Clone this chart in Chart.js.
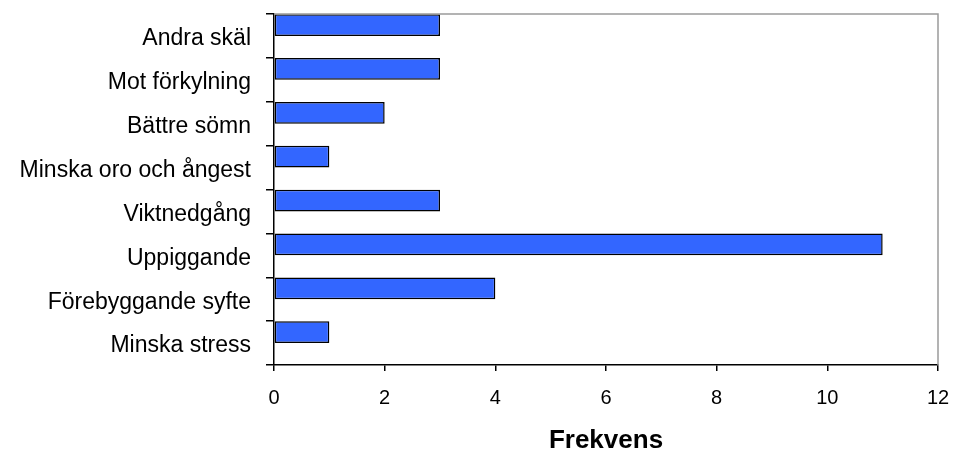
<!DOCTYPE html>
<html>
<head>
<meta charset="utf-8">
<script src="https://cdn.jsdelivr.net/npm/chart.js@4/dist/chart.umd.min.js"></script>
<style>
  html, body { margin: 0; padding: 0; background: #ffffff; }
  #wrap { width: 953px; height: 451px; }
</style>
</head>
<body>
<div id="wrap"><canvas id="c" width="953" height="451"></canvas></div>
<script>
// Reasons given, top to bottom
const categories = [
  'Andra skäl',
  'Mot förkylning',
  'Bättre sömn',
  'Minska oro och ångest',
  'Viktnedgång',
  'Uppiggande',
  'Förebyggande syfte',
  'Minska stress'
];
// Number of answers per reason
const frekvens = [3, 3, 2, 1, 3, 11, 4, 1];
// Second (empty) series that keeps its slot in every category
const emptySeries = [null, null, null, null, null, null, null, null];
// Value axis ticks
const xTicks = [0, 2, 4, 6, 8, 10, 12];

const FONT = '"Liberation Sans", Arial, Helvetica, sans-serif';

// Grey frame on the top and right edges of the plot area
const frameLines = {
  id: 'frameLines',
  afterDatasetsDraw(chart) {
    const { ctx, chartArea: a } = chart;
    ctx.save();
    ctx.strokeStyle = '#9a9a9a';
    ctx.lineWidth = 1.5;
    ctx.beginPath();
    ctx.moveTo(a.left, a.top);
    ctx.lineTo(a.right, a.top);
    ctx.lineTo(a.right, a.bottom);
    ctx.stroke();
    ctx.restore();
  }
};

new Chart(document.getElementById('c'), {
  type: 'bar',
  data: {
    labels: categories,
    datasets: [
      {
        label: 'Frekvens',
        data: frekvens,
        backgroundColor: '#3366ff',
        borderColor: '#000000',
        borderWidth: 1.5,
        borderSkipped: false,
        categoryPercentage: 0.99,
        barPercentage: 1.0
      },
      {
        label: '',
        data: emptySeries,
        backgroundColor: '#3366ff',
        borderColor: '#000000',
        borderWidth: 1.5,
        categoryPercentage: 0.99,
        barPercentage: 1.0
      }
    ]
  },
  options: {
    indexAxis: 'y',
    responsive: false,
    maintainAspectRatio: false,
    devicePixelRatio: 1,
    animation: false,
    layout: { padding: { top: 14, right: 15, left: 0, bottom: 0 } },
    plugins: {
      legend: { display: false },
      tooltip: { enabled: false },
      title: { display: false }
    },
    scales: {
      x: {
        type: 'linear',
        position: 'bottom',
        min: 0,
        max: 12,
        afterBuildTicks(scale) {
          scale.ticks = xTicks.map(v => ({ value: v }));
        },
        afterFit(scale) {
          scale.height = 86;
          scale.paddingLeft = 0;
          scale.paddingRight = 0;
        },
        border: { display: true, color: '#000000', width: 1.5 },
        grid: {
          display: true,
          drawOnChartArea: false,
          drawTicks: true,
          tickLength: 6,
          color: '#000000',
          lineWidth: 1.5
        },
        ticks: {
          color: '#000000',
          padding: 15,
          maxRotation: 0,
          font: { family: FONT, size: 20 }
        },
        title: {
          display: true,
          text: 'Frekvens',
          color: '#000000',
          padding: { top: 0, bottom: 0 },
          font: { family: FONT, size: 26, weight: 'bold', lineHeight: 0.75 }
        }
      },
      y: {
        type: 'category',
        position: 'left',
        offset: true,
        afterFit(scale) {
          scale.width = 274;
          scale.paddingTop = 0;
          scale.paddingBottom = 0;
        },
        border: { display: true, color: '#000000', width: 1.5 },
        grid: {
          display: true,
          offset: true,
          drawOnChartArea: false,
          drawTicks: true,
          tickLength: 8,
          color: '#000000',
          lineWidth: 1.5
        },
        ticks: {
          color: '#000000',
          padding: 15,
          labelOffset: 3,
          font: { family: FONT, size: 23 }
        }
      }
    }
  },
  plugins: [frameLines]
});
</script>
</body>
</html>
